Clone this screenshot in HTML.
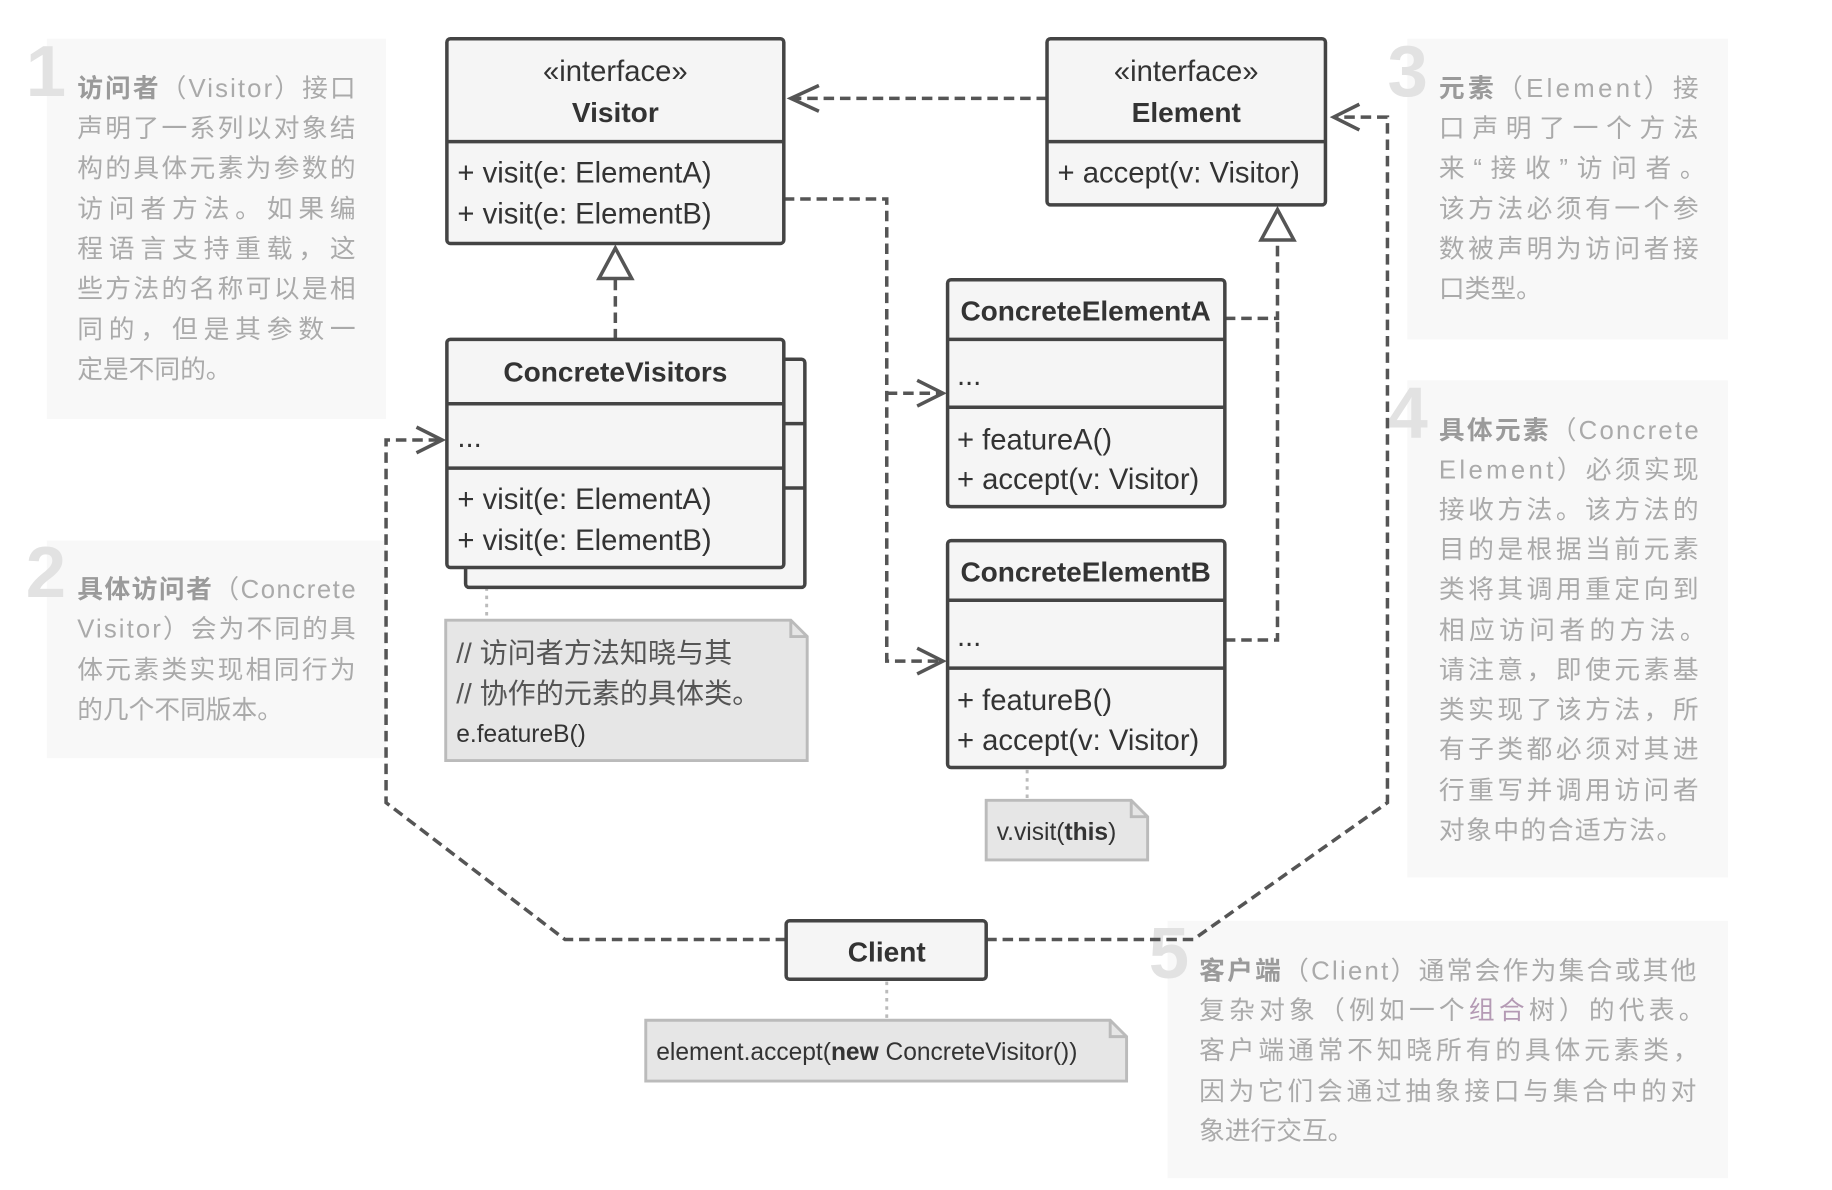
<!DOCTYPE html>
<html><head><meta charset="utf-8"><style>
html,body{margin:0;padding:0;background:#fff;}
svg{display:block;}
text{font-family:"Liberation Sans","Noto Sans CJK SC",sans-serif;}
.n{fill:#aaa;font-size:22px;}
.nb{font-weight:bold;fill:#9a9a9a;}
.big{fill:#e2e2e2;font-size:62px;font-weight:bold;}
.t{fill:#333;font-size:25px;}
.tb{fill:#333;font-size:24px;font-weight:bold;}
.box{fill:#f5f5f5;stroke:#444;stroke-width:3;}
.dl{stroke:#444;stroke-width:3;}
.ds{fill:none;stroke:#555;stroke-width:3;stroke-dasharray:9 5;}
.dot{stroke:#bbb;stroke-width:2.5;stroke-dasharray:3 4;}
.arr{fill:none;stroke:#555;stroke-width:3;}
.tri{fill:#fff;stroke:#555;stroke-width:3;}
.note{fill:#e6e6e6;stroke:#bbb;stroke-width:2.5;}
</style></head><body>
<svg width="1832" height="1190" viewBox="0 0 1566 1017" xmlns="http://www.w3.org/2000/svg">
<rect x="40" y="33" width="290" height="325" fill="#f8f8f8"/>
<rect x="40" y="462" width="290" height="186" fill="#f8f8f8"/>
<rect x="1203" y="33" width="274" height="257" fill="#f8f8f8"/>
<rect x="1203" y="325" width="274" height="425" fill="#f8f8f8"/>
<rect x="998" y="787" width="479" height="220" fill="#f8f8f8"/>

<text class="big" x="22" y="82">1</text>
<text class="big" x="22" y="510">2</text>
<text class="big" x="1186" y="82">3</text>
<text class="big" x="1186" y="374">4</text>
<text class="big" x="982" y="836">5</text>

<g class="n">
<text x="66" y="83" textLength="238" lengthAdjust="spacing"><tspan class="nb">访问者</tspan>（Visitor）接口</text>
<text x="66" y="117" textLength="238" lengthAdjust="spacing">声明了一系列以对象结</text>
<text x="66" y="151" textLength="238" lengthAdjust="spacing">构的具体元素为参数的</text>
<text x="66" y="186" textLength="238" lengthAdjust="spacing">访问者方法。如果编</text>
<text x="66" y="220" textLength="238" lengthAdjust="spacing">程语言支持重载，这</text>
<text x="66" y="254" textLength="238" lengthAdjust="spacing">些方法的名称可以是相</text>
<text x="66" y="289" textLength="238" lengthAdjust="spacing">同的，但是其参数一</text>
<text x="66" y="323">定是不同的。</text>

<text x="66" y="511" textLength="238" lengthAdjust="spacing"><tspan class="nb">具体访问者</tspan>（Concrete</text>
<text x="66" y="545" textLength="238" lengthAdjust="spacing">Visitor）会为不同的具</text>
<text x="66" y="580" textLength="238" lengthAdjust="spacing">体元素类实现相同行为</text>
<text x="66" y="614">的几个不同版本。</text>

<text x="1230" y="83" textLength="222" lengthAdjust="spacing"><tspan class="nb">元素</tspan>（Element）接</text>
<text x="1230" y="117" textLength="222" lengthAdjust="spacing">口声明了一个方法</text>
<text x="1230" y="151" textLength="228" lengthAdjust="spacing">来“接收”访问者。</text>
<text x="1230" y="186" textLength="222" lengthAdjust="spacing">该方法必须有一个参</text>
<text x="1230" y="220" textLength="222" lengthAdjust="spacing">数被声明为访问者接</text>
<text x="1230" y="254">口类型。</text>

<text x="1230" y="375" textLength="222" lengthAdjust="spacing"><tspan class="nb">具体元素</tspan>（Concrete</text>
<text x="1230" y="409" textLength="222" lengthAdjust="spacing">Element）必须实现</text>
<text x="1230" y="443" textLength="222" lengthAdjust="spacing">接收方法。该方法的</text>
<text x="1230" y="477" textLength="222" lengthAdjust="spacing">目的是根据当前元素</text>
<text x="1230" y="511" textLength="222" lengthAdjust="spacing">类将其调用重定向到</text>
<text x="1230" y="546" textLength="228" lengthAdjust="spacing">相应访问者的方法。</text>
<text x="1230" y="580" textLength="222" lengthAdjust="spacing">请注意，即使元素基</text>
<text x="1230" y="614" textLength="222" lengthAdjust="spacing">类实现了该方法，所</text>
<text x="1230" y="648" textLength="222" lengthAdjust="spacing">有子类都必须对其进</text>
<text x="1230" y="683" textLength="222" lengthAdjust="spacing">行重写并调用访问者</text>
<text x="1230" y="717" textLength="208" lengthAdjust="spacing">对象中的合适方法。</text>

<text x="1025" y="837" textLength="425" lengthAdjust="spacing"><tspan class="nb">客户端</tspan>（Client）通常会作为集合或其他</text>
<text x="1025" y="871" textLength="432" lengthAdjust="spacing">复杂对象（例如一个<tspan fill="#b49ab4">组合</tspan>树）的代表。</text>
<text x="1025" y="905" textLength="427" lengthAdjust="spacing">客户端通常不知晓所有的具体元素类，</text>
<text x="1025" y="940" textLength="425" lengthAdjust="spacing">因为它们会通过抽象接口与集合中的对</text>
<text x="1025" y="974">象进行交互。</text>
</g>

<path class="ds" d="M895 84 H676"/>
<path class="arr" d="M700 73 L676 84 L700 95"/>
<path class="ds" d="M670 170 H758 V565 H806 M758 336 H806"/>
<path class="arr" d="M784 325 L806 336 L784 347 M784 554 L806 565 L784 576"/>
<path class="ds" d="M1047 272 H1092 V205 M1047 547 H1092 V272"/>
<path class="tri" d="M1092 179 L1078 205 L1106 205 Z"/>
<path class="ds" d="M526 290 V238"/>
<path class="tri" d="M526 212 L512 238 L540 238 Z"/>
<path class="ds" d="M672 803 H483 L330 686 V376 H378"/>
<path class="arr" d="M356 365 L378 376 L356 387"/>
<path class="ds" d="M843 803 H1020 L1186 686 V100 H1140"/>
<path class="arr" d="M1162 89 L1140 100 L1162 111"/>

<line class="dot" x1="416" y1="488" x2="416" y2="530"/>
<line class="dot" x1="878" y1="658" x2="878" y2="684"/>
<line class="dot" x1="758" y1="839" x2="758" y2="872"/>

<rect class="box" x="382" y="33" width="288" height="175" rx="3"/>
<line class="dl" x1="382" y1="121" x2="670" y2="121"/>
<text class="t" x="526" y="69" text-anchor="middle">«interface»</text>
<text class="tb" x="526" y="104" text-anchor="middle" font-size="25">Visitor</text>
<text class="t" x="391" y="156">+ visit(e: ElementA)</text>
<text class="t" x="391" y="191">+ visit(e: ElementB)</text>

<rect class="box" x="895" y="33" width="238" height="142" rx="3"/>
<line class="dl" x1="895" y1="121" x2="1133" y2="121"/>
<text class="t" x="1014" y="69" text-anchor="middle">«interface»</text>
<text class="tb" x="1014" y="104" text-anchor="middle" font-size="25">Element</text>
<text class="t" x="904" y="156">+ accept(v: Visitor)</text>

<rect class="box" x="398" y="307" width="290" height="195" rx="3"/>
<line class="dl" x1="670" y1="362" x2="688" y2="362"/>
<line class="dl" x1="670" y1="417" x2="688" y2="417"/>
<rect class="box" x="382" y="290" width="288" height="195" rx="3"/>
<line class="dl" x1="382" y1="345" x2="670" y2="345"/>
<line class="dl" x1="382" y1="400" x2="670" y2="400"/>
<text class="tb" x="526" y="326" text-anchor="middle">ConcreteVisitors</text>
<text class="t" x="391" y="382">...</text>
<text class="t" x="391" y="435">+ visit(e: ElementA)</text>
<text class="t" x="391" y="470">+ visit(e: ElementB)</text>

<rect class="box" x="810" y="239" width="237" height="194" rx="3"/>
<line class="dl" x1="810" y1="290" x2="1047" y2="290"/>
<line class="dl" x1="810" y1="348" x2="1047" y2="348"/>
<text class="tb" x="928" y="274" text-anchor="middle" textLength="214">ConcreteElementA</text>
<text class="t" x="818" y="329">...</text>
<text class="t" x="818" y="384">+ featureA()</text>
<text class="t" x="818" y="418">+ accept(v: Visitor)</text>

<rect class="box" x="810" y="462" width="237" height="194" rx="3"/>
<line class="dl" x1="810" y1="513" x2="1047" y2="513"/>
<line class="dl" x1="810" y1="571" x2="1047" y2="571"/>
<text class="tb" x="928" y="497" text-anchor="middle" textLength="214">ConcreteElementB</text>
<text class="t" x="818" y="552">...</text>
<text class="t" x="818" y="607">+ featureB()</text>
<text class="t" x="818" y="641">+ accept(v: Visitor)</text>

<rect class="box" x="672" y="787" width="171" height="50" rx="3"/>
<text class="tb" x="758" y="822" text-anchor="middle" font-size="25">Client</text>

<path class="note" d="M381 530 H676 L690 544 V650 H381 Z"/>
<path d="M676 530 V544 H690" fill="none" stroke="#bbb" stroke-width="2.5"/>
<text x="390" y="566" fill="#555" font-size="24">// 访问者方法知晓与其</text>
<text x="390" y="601" fill="#555" font-size="24">// 协作的元素的具体类。</text>
<text x="390" y="634" fill="#333" font-size="21">e.featureB()</text>

<path class="note" d="M843 684 H967 L981 698 V735 H843 Z"/>
<path d="M967 684 V698 H981" fill="none" stroke="#bbb" stroke-width="2.5"/>
<text x="852" y="718" fill="#333" font-size="21">v.visit(<tspan font-weight="bold">this</tspan>)</text>

<path class="note" d="M552 872 H949 L963 886 V924 H552 Z"/>
<path d="M949 872 V886 H963" fill="none" stroke="#bbb" stroke-width="2.5"/>
<text x="561" y="906" fill="#333" font-size="21">element.accept(<tspan font-weight="bold">new</tspan> ConcreteVisitor())</text>
</svg>
</body></html>
